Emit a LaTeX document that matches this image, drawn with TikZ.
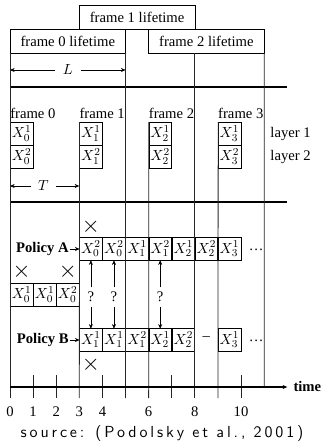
\documentclass[tikz,border=0pt]{standalone}
\usepackage{fontspec}
\setmainfont{Liberation Serif}
\newfontfamily\srcfont{lmsans10-regular}[Extension=.otf, LetterSpace=18]
\usetikzlibrary{arrows.meta}

\begin{document}
\begin{tikzpicture}[x=17.33pt, y=-0.75pt,
  font=\fontsize{11}{13}\selectfont,
  lifebox/.style={draw, minimum width=86.65pt, minimum height=18pt, inner sep=0pt, outer sep=0pt},
  cell/.style={draw, minimum width=17pt, minimum height=16.9pt, inner sep=0pt, outer sep=0pt},
  lbl/.style={anchor=west, inner sep=0pt},
  cross/.style={font=\fontsize{17}{18}\selectfont, inner sep=0pt},
  policy/.style={anchor=east, inner sep=0.5pt, font=\fontsize{11}{13}\selectfont\bfseries},
  grid/.style={line width=0.6pt, black!85},
  sep/.style={line width=1pt},
  arr/.style={-{Stealth[length=3.5pt,width=3pt]}}]
\useasboundingbox (-0.4329,0) rectangle (13.550,443);

% lifetimes
\node[lifebox] (life1) at (5.5,17) {frame 1 lifetime};
\node[lifebox] (life0) at (2.5,41) {frame 0 lifetime};
\node[lifebox] (life2) at (8.5,41) {frame 2 lifetime};

\node[inner sep=6pt] (L) at (2.5,70) {$L$};
\coordinate (Ls) at (0,70);
\coordinate (Le) at (5,70);
\draw[arr] (L) -- (Ls);
\draw[arr] (L) -- (Le);

\coordinate (h1s) at (0,87);
\coordinate (h1e) at (12,87);
\draw[sep] (h1s) -- (h1e);

% frames and layers
\foreach \k in {0,...,3} {
  \node[lbl] (fl\k) at ({3*\k},113) {frame \k};
  \node[cell] (top\k) at ({3*\k+0.5},133.5) {$X_{\k}^1$};
  \node[cell] (bot\k) at ({3*\k+0.5},156.5) {$X_{\k}^2$};
}
\node[lbl] (lay1) at (11.26,134) {layer 1};
\node[lbl] (lay2) at (11.26,157) {layer 2};

\node[inner sep=5pt] (T) at (1.45,186) {$T$};
\coordinate (Ts) at (0,186);
\coordinate (Te) at (3,186);
\draw[arr] (T) -- (Ts);
\draw[arr] (T) -- (Te);

\coordinate (h2s) at (0,202);
\coordinate (h2e) at (12,202);
\draw[sep] (h2s) -- (h2e);

% policy A
\foreach \lab [count=\i] in {{X_0^2},{X_0^2},{X_1^1},{X_1^2},{X_2^1},{X_2^2},{X_3^1}}
  \node[cell] (a\i) at ({2.5+\i},249) {$\lab$};
\node (adots) at (10.65,250) {\dots};
\node[policy] (pa) at (2.58,249) {Policy A};
\draw[arr] (pa) -- (a1);

% first layers sent
\foreach \lab [count=\i] in {{X_0^1},{X_0^1},{X_0^2}}
  \node[cell] (c\i) at ({\i-0.5},294.5) {$\lab$};

% policy B
\foreach \lab [count=\i] in {{X_1^1},{X_1^1},{X_1^2},{X_2^1},{X_2^2}}
  \node[cell] (b\i) at ({2.5+\i},340) {$\lab$};
\node (bdash) at (8.5,339) {--};
\node[cell] (b6) at (9.5,340) {$X_3^1$};
\node (bdots) at (10.65,341) {\dots};
\node[policy] (pb) at (2.58,340) {Policy B};
\draw[arr] (pb) -- (b1);

% drops
\node[cross] (x1) at (3.5,227) {$\times$};
\node[cross] (x2) at (0.5,272) {$\times$};
\node[cross] (x3) at (2.5,272) {$\times$};
\node[cross] (x4) at (3.5,365) {$\times$};

\node (q1) at (3.5,297) {?};
\node (q2) at (4.5,297) {?};
\node (q3) at (6.5,297) {?};
\draw[arr] (q1) -- (a1);
\draw[arr] (q2) -- (a2);
\draw[arr] (q3) -- (a4);
\draw[arr] (q1) -- (b1);
\draw[arr] (q2) -- (b2);
\draw[arr] (q3) -- (b4);

% time lines
\draw[grid] (life0.south west) -- (0,398);
\draw[grid] (top1.north west) -- (3,398);
\draw[grid] (life0.south east) -- (5,398);
\draw[grid] (top2.north west) -- (6,398);
\draw[grid] (8,53) -- (8,398);
\draw[grid] (top3.north west) -- (9,398);
\draw[grid] (life2.south east) -- (11,387);
\foreach \t in {1,2,4,7,10}
  \draw[grid] (\t,375) -- (\t,398);

% axis
\coordinate (ax0) at (0,387);
\coordinate (ax1) at (12,387);
\draw[sep, arr] (ax0) -- (ax1);
\node[anchor=west, inner sep=1pt, font=\fontsize{11}{13}\selectfont\bfseries] (time) at (12.2,386) {time};
\foreach \t in {0,1,2,3,4,6,8,10}
  \node (n\t) at (\t,412) {\t};

\node[font=\srcfont\fontsize{12}{14}\selectfont] (src) at (6.58,433) {source: (Podolsky et al., 2001)};
\end{tikzpicture}
\end{document}
